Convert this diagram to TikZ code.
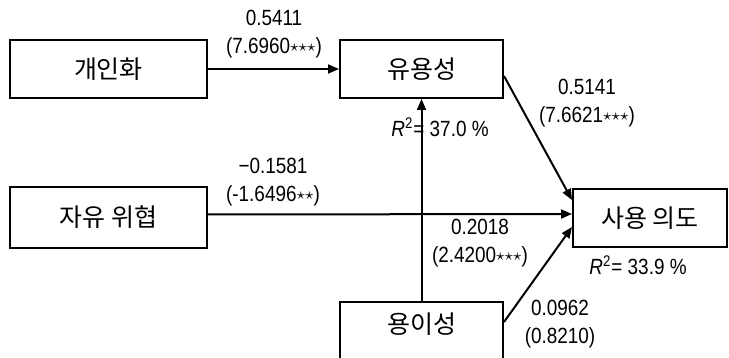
\documentclass[tikz,border=0pt]{standalone}
\usepackage{fontspec}
\setmainfont{Noto Sans CJK KR}
\newfontfamily\numfont[FakeStretch=0.86]{Liberation Sans}
\usepackage{tikz}
\usetikzlibrary{positioning, arrows.meta}
\newcommand{\sig}{\raisebox{1.1pt}{\fontsize{8}{8}\selectfont$\star$}}

\begin{document}
\begin{tikzpicture}[
      x=0.5pt, y=-0.5pt,
      box/.style={draw, line width=1pt, minimum height=29pt, inner sep=2pt, font=\fontsize{12.5}{14}\selectfont},
      wide/.style={box, minimum width=98.5pt},
      mid/.style={box, minimum width=81.5pt},
      coef/.style={align=center, inner sep=1pt, font=\numfont\fontsize{11}{14}\selectfont},
      arr/.style={-{Triangle[length=5.5pt, width=4.5pt]}, line width=1pt}
    ]
    \useasboundingbox (0,0) rectangle (729,358);
    %% constructs
    \node[wide] (pers)   at (108.5,69)  {개인화};
    \node[mid]  (useful) at (421.5,69)  {유용성};
    \node[wide, minimum height=30.5pt] (threat) at (108.5,217.5) {자유 위협};
    \node[box, minimum width=77pt] (intent) at (650,218) {사용 의도};
    \node[mid, text depth=8pt] (ease) at (421.5,331) {용이성};
    %% paths
    \draw[arr] (pers) -- (useful);
    \draw[arr] ([yshift=-3.5pt]useful.east) -- ([yshift=9pt]intent.west);
    \draw[arr] ([yshift=1.5pt]threat.east) -- ([yshift=2pt]intent.west);
    \draw[arr] (ease) -- (useful);
    \draw[arr] ([yshift=4.5pt]ease.east) -- ([yshift=-4.5pt]intent.west);
    %% coefficients (t values)
    \node[coef] (c1) at (274,34)    {0.5411\\(7.6960\sig\sig\sig)};
    \node[coef] (c2) at (587,103.5) {0.5141\\(7.6621\sig\sig\sig)};
    \node[coef] (c3) at (273,182)   {−0.1581\\(-1.6496\sig\sig)};
    \node[coef] (c4) at (480,243)   {0.2018\\(2.4200\sig\sig\sig)};
    \node[coef] (c5) at (560,324.5) {0.0962\\(0.8210)};
    %% explained variance
    \node[coef, anchor=west] (r1) at (389,127) {{\itshape R}\textsuperscript{2}= 37.0 \%};
    \node[coef, anchor=west] (r2) at (587,265) {{\itshape R}\textsuperscript{2}= 33.9 \%};
  \end{tikzpicture}
\end{document}
